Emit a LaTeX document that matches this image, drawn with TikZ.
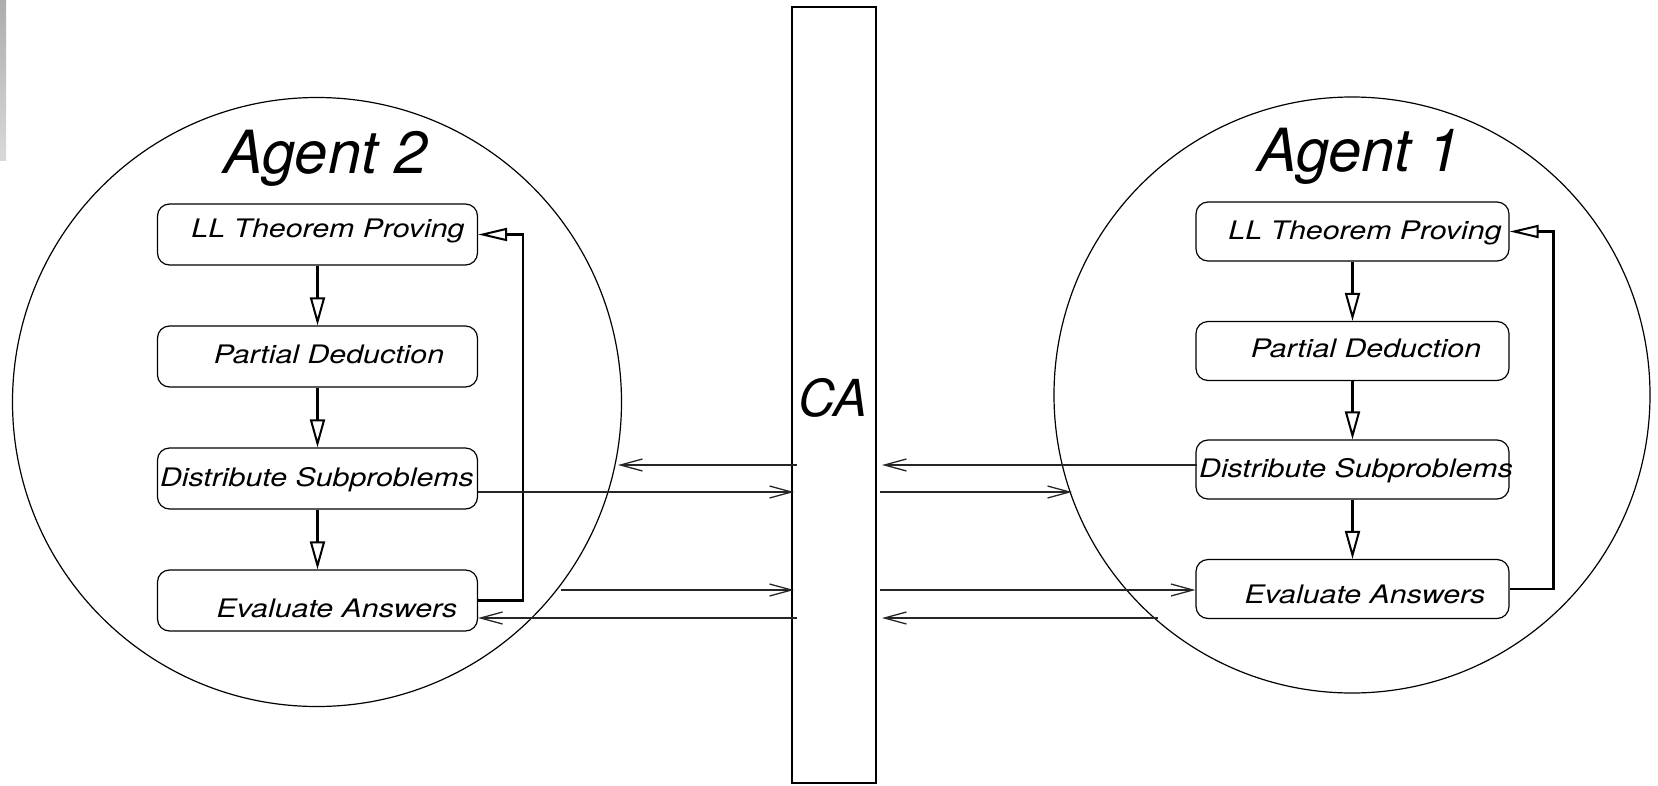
\documentclass[tikz,border=0pt]{standalone}
\usepackage{fontspec}
\setmainfont{TeX Gyre Heros}
\newfontfamily\stagefont[FakeStretch=1.19]{TeX Gyre Heros}
\usetikzlibrary{arrows.meta}

\tikzset{
  agent/.style={draw, circle, line width=1.2pt, inner sep=0pt},
  stage/.style={draw, line width=1.2pt, rounded corners=12pt, inner sep=0pt,
    minimum width=320pt, minimum height=61pt},
  rstage/.style={stage, minimum width=313pt, minimum height=59pt},
  stagetext/.style={anchor=base, inner sep=0pt,
    font=\stagefont\itshape\fontsize{25.5}{30}\selectfont},
  title/.style={anchor=base, inner sep=0pt, font=\itshape\fontsize{59.5}{70}\selectfont},
  flow/.style={line width=2.2pt, -{Triangle[open, length=28pt, width=15pt, line width=2pt]}},
  feedback/.style={line width=2.4pt, -{Triangle[open, length=29pt, width=13pt, line width=2pt]}},
  msg/.style={line width=1.3pt, black!85, -{Straight Barb[length=22pt, width=12pt, line width=1.3pt]}}
}

\begin{document}
\begin{tikzpicture}[x=1pt,y=-1pt]
  \shade[top color=gray!65, bottom color=gray!30] (0,0) rectangle (6,160);

  % Agents and the CA bar
  \node[agent, minimum size=609pt] (ag2) at (317,402) {};
  \node[agent, minimum size=596pt] (ag1) at (1352,395) {};
  \node[draw, line width=1.3pt, minimum width=84pt, minimum height=776pt, inner sep=0pt] (ca) at (834,395) {};
  \node[anchor=base, inner sep=0pt, font=\itshape\fontsize{51}{60}\selectfont] (catext) at (833,416.7) {CA};
  \node[title] (t2) at (325.4,173.3) {Agent 2};
  \node[title] (t1) at (1359,171.7) {Agent 1};

  % Agent 2 stages
  \node[stage] (l1) at (317.5,234.5) {};
  \node[stage] (l2) at (317.5,356.5) {};
  \node[stage] (l3) at (317.5,478.5) {};
  \node[stage] (l4) at (317.5,600.5) {};
  \node[stagetext] (l1t) at (328,237.8) {LL Theorem Proving};
  \node[stagetext] (l2t) at (329,363.8) {Partial Deduction};
  \node[stagetext] (l3t) at (317,486.5) {Distribute Subproblems};
  \node[stagetext] (l4t) at (337,617) {Evaluate Answers};

  % Agent 1 stages
  \node[rstage] (r1) at (1352.5,231.5) {};
  \node[rstage] (r2) at (1352.5,351) {};
  \node[rstage] (r3) at (1352.5,469.5) {};
  \node[rstage] (r4) at (1352.5,589) {};
  \node[stagetext] (r1t) at (1365,239.8) {LL Theorem Proving};
  \node[stagetext] (r2t) at (1366,357.2) {Partial Deduction};
  \node[stagetext] (r3t) at (1356,477.2) {Distribute Subproblems};
  \node[stagetext] (r4t) at (1365,603.2) {Evaluate Answers};

  % Flow inside the agents
  \foreach \a/\b in {l1/l2, l2/l3, l3/l4, r1/r2, r2/r3, r3/r4}
    \draw[flow] (\a.south) -- (\b.north);
  \draw[feedback] (l4.east) -- ++(45,0) |- (l1.east);
  \draw[feedback] (r4.east) -- ++(44,0) |- (r1.east);

  % Messages through the CA
  \coordinate (ca2a) at (797,465);
  \coordinate (ca2b) at (794,492);
  \coordinate (ca2c) at (794,590);
  \coordinate (ca2d) at (797,618);
  \coordinate (ca1a) at (882,465);
  \coordinate (ca1b) at (880,492);
  \coordinate (ca1c) at (880,590);
  \coordinate (ca1d) at (882,618);
  \coordinate (ag2a) at (618,465);
  \coordinate (ag2c) at (561,590);
  \coordinate (ag1b) at (1072,492);
  \coordinate (ag1d) at (1158,618);

  \draw[msg] (ca2a) -- (ag2a);
  \draw[msg] (l3.east |- ca2b) -- (ca2b);
  \draw[msg] (ag2c) -- (ca2c);
  \draw[msg] (ca2d) -- (l4.east |- ca2d);
  \draw[msg] (r3.west |- ca1a) ++(2,0) -- (ca1a);
  \draw[msg] (ca1b) -- (ag1b);
  \draw[msg] (ca1c) -- (r4.west |- ca1c);
  \draw[msg] (ag1d) -- (ca1d);

  \pgfresetboundingbox
  \useasboundingbox (0,0) rectangle (1658,785);
\end{tikzpicture}
\end{document}
